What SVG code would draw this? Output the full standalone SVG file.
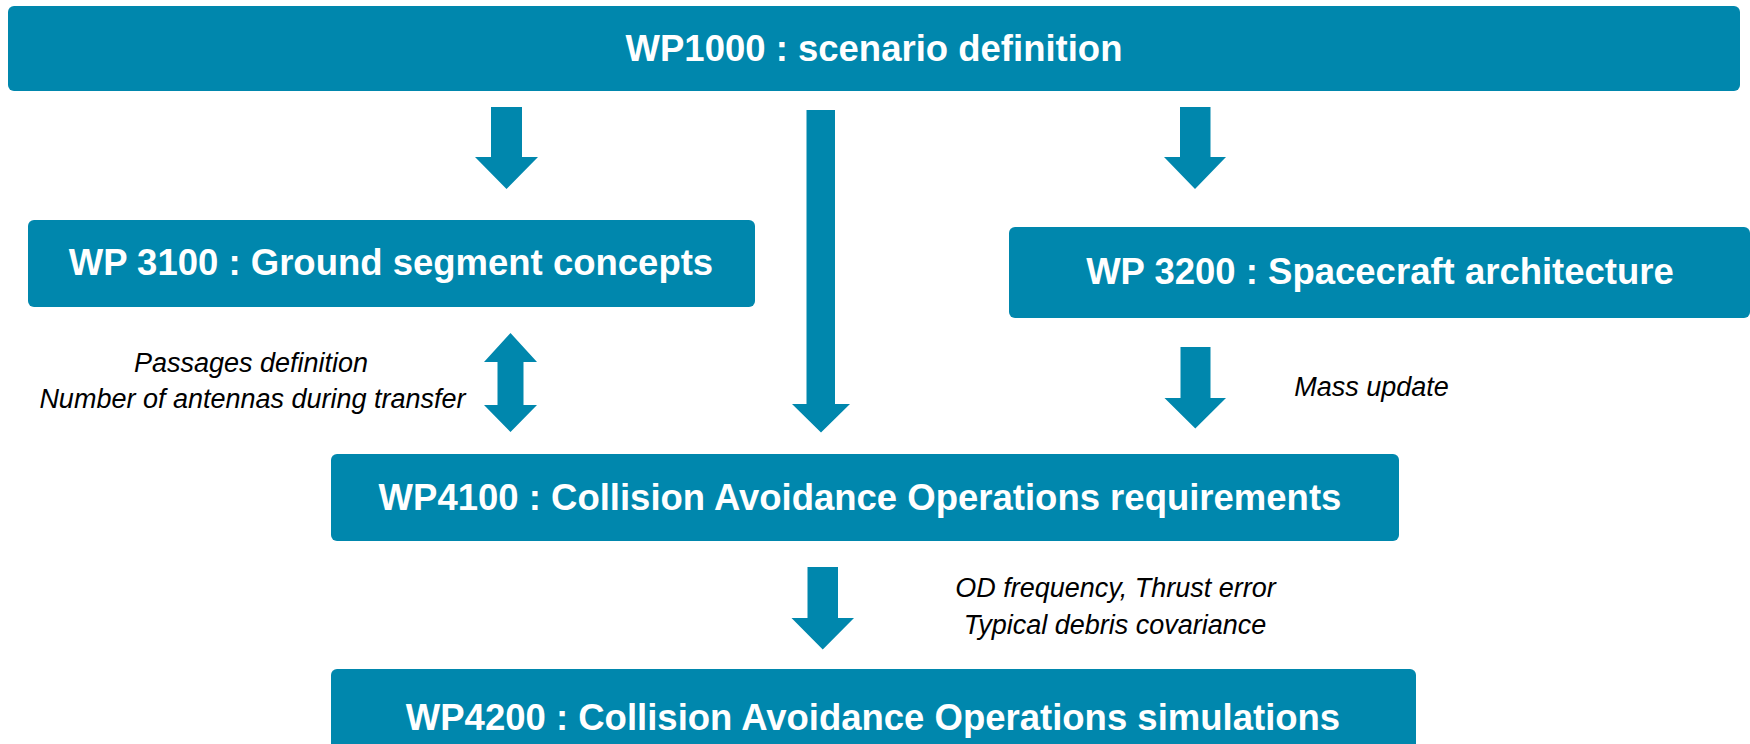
<svg xmlns="http://www.w3.org/2000/svg" width="1750" height="744" viewBox="0 0 1750 744">
  <style>
    .box { fill: #0087ad; }
    .arrow { fill: #0087ad; }
    .title { font-family: "Liberation Sans", Arial, sans-serif; font-weight: bold; font-size: 36.5px; fill: #ffffff; text-anchor: middle; }
    .note { font-family: "Liberation Sans", Arial, sans-serif; font-style: italic; font-size: 27px; fill: #000000; text-anchor: middle; }
  </style>
  <rect x="0" y="0" width="1750" height="744" fill="#ffffff"/>

  <!-- work package boxes -->
  <g id="wp1000">
    <rect class="box" x="8" y="6" width="1732" height="85" rx="6"/>
    <text class="title" x="874" y="61">WP1000 : scenario definition</text>
  </g>
  <g id="wp3100">
    <rect class="box" x="28" y="220" width="727" height="87" rx="6"/>
    <text class="title" x="391" y="275">WP 3100 : Ground segment concepts</text>
  </g>
  <g id="wp3200">
    <rect class="box" x="1009" y="227" width="741" height="91" rx="6"/>
    <text class="title" x="1380" y="284">WP 3200 : Spacecraft architecture</text>
  </g>
  <g id="wp4100">
    <rect class="box" x="331" y="454" width="1068" height="87" rx="6"/>
    <text class="title" x="860" y="510">WP4100 : Collision Avoidance Operations requirements</text>
  </g>
  <g id="wp4200">
    <rect class="box" x="331" y="669" width="1085" height="100" rx="6"/>
    <text class="title" x="873" y="730">WP4200 : Collision Avoidance Operations simulations</text>
  </g>

  <!-- block arrows between work packages -->
  <g id="connectors">
    <polygon class="arrow" points="491,107 522,107 522,157 538,157 506.5,189 475,157 491,157"/>
    <polygon class="arrow" points="806.5,110 835,110 835,404 850,404 821,432.5 792,404 806.5,404"/>
    <polygon class="arrow" points="1180,107 1210.5,107 1210.5,157 1226,157 1195,189 1164,157 1180,157"/>
    <polygon class="arrow" points="1180.5,347 1210.5,347 1210.5,398 1226,398 1195.3,428.5 1164.5,398 1180.5,398"/>
    <polygon class="arrow" points="807.5,567 838,567 838,618 854,618 822.75,649.5 791.5,618 807.5,618"/>
    <polygon class="arrow" points="510.5,333 537,362 523.5,362 523.5,405 537,405 510.5,432 484,405 497.5,405 497.5,362 484,362"/>
  </g>

  <!-- data flow notes -->
  <g id="labels">
    <text class="note" x="251" y="372">Passages definition</text>
    <text class="note" x="252.5" y="408">Number of antennas during transfer</text>
    <text class="note" x="1371.5" y="396">Mass update</text>
    <text class="note" x="1115.5" y="597">OD frequency, Thrust error</text>
    <text class="note" x="1115" y="634">Typical debris covariance</text>
  </g>
</svg>
